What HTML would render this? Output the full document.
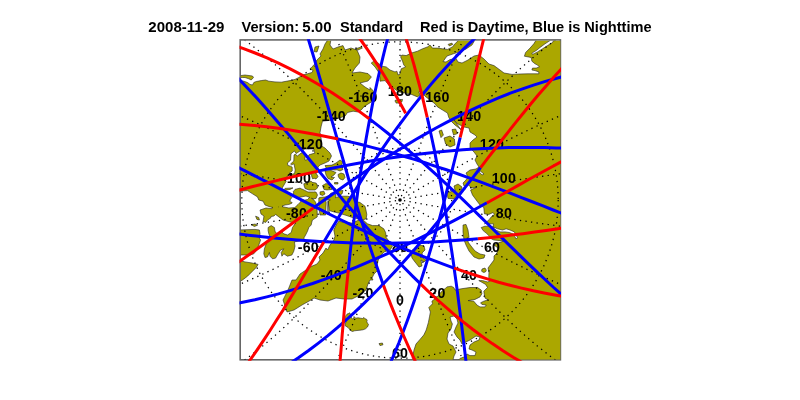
<!DOCTYPE html>
<html><head><meta charset="utf-8"><title>orbit map</title>
<style>
html,body{margin:0;padding:0;background:#fff;}
body{width:800px;height:400px;overflow:hidden;position:relative;font-family:"Liberation Sans",sans-serif;}
svg{position:absolute;left:0;top:0;}
.t{font:bold 14.6px "Liberation Sans",sans-serif;fill:#000;}
.lab text{letter-spacing:0.2px;font:bold 14.2px "Liberation Sans",sans-serif;fill:#000;text-anchor:middle;}
</style></head><body>
<svg width="800" height="400" viewBox="0 0 800 400">
<defs><clipPath id="c"><rect x="240.9" y="40.8" width="319.4" height="318.8"/></clipPath><clipPath id="c2"><rect x="239.5" y="39.2" width="321.5" height="321.5"/></clipPath></defs>
<rect x="0" y="0" width="800" height="400" fill="#fff"/>
<g class="t" style="filter:grayscale(1)">
<text x="148.3" y="31.6" textLength="76.1" lengthAdjust="spacingAndGlyphs">2008-11-29</text>
<text x="241.5" y="31.6">Version:</text>
<text x="302.3" y="31.6" textLength="29.2" lengthAdjust="spacingAndGlyphs">5.00</text>
<text x="340.0" y="31.6">Standard</text>
<text x="420.1" y="31.6" textLength="231.4" lengthAdjust="spacing">Red is Daytime, Blue is Nighttime</text>
</g>
<rect x="240.2" y="39.9" width="320.2" height="319.9" fill="none" stroke="#666" stroke-width="1.6"/>
<g clip-path="url(#c)">
<g stroke="#222" stroke-width="0.6" stroke-linejoin="round">
<path fill-rule="evenodd" fill="#ABA700" d="M251.2,80.0 L253.5,77.5 L252.5,76.0 L245.0,75.0 L237.5,76.0 L237.5,78.1 L242.5,77.5 L245.0,77.5 L248.8,78.8Z M257.5,196.9 L258.8,200.0 L263.1,201.2 L265.0,205.0 L270.0,206.9 L272.8,207.4 L272.0,207.5 L272.0,208.7 L266.0,208.0 L260.0,210.0 L261.0,214.0 L264.0,216.0 L263.1,221.2 L263.0,222.0 L264.0,221.7 L265.6,222.5 L267.5,220.0 L270.6,218.1 L271.1,216.5 L274.0,216.0 L275.6,214.4 L279.0,217.0 L283.0,220.0 L290.0,222.0 L296.0,223.2 L295.0,223.8 L292.5,227.5 L291.2,232.5 L287.5,235.0 L283.8,233.8 L281.2,231.2 L276.9,233.8 L275.0,231.2 L274.4,227.5 L271.2,225.6 L268.1,227.5 L268.1,230.6 L268.8,233.8 L270.6,238.1 L268.8,240.6 L266.2,243.8 L264.4,248.8 L263.8,253.8 L265.0,257.5 L267.5,256.9 L269.4,252.5 L270.0,256.2 L272.5,258.8 L275.6,258.1 L278.1,253.8 L280.6,250.0 L283.8,248.8 L281.2,252.5 L281.9,256.2 L283.8,253.8 L287.5,256.2 L291.9,255.0 L293.8,251.2 L295.0,246.2 L294.4,241.9 L305.0,240.0 L303.8,238.1 L305.6,235.0 L307.5,231.2 L308.8,227.5 L311.2,225.0 L311.6,223.0 L312.4,220.0 L317.2,217.0 L317.2,212.0 L316.8,206.0 L315.5,202.0 L313.0,199.0 L311.4,198.3 L315.0,198.8 L315.2,198.4 L316.0,198.5 L317.5,195.0 L316.0,192.0 L315.1,192.0 L315.0,191.9 L313.5,192.0 L308.0,192.0 L302.0,189.0 L301.8,189.0 L300.0,188.1 L296.5,189.0 L296.0,189.0 L295.9,189.1 L295.0,189.4 L293.1,191.9 L293.7,192.8 L293.0,194.0 L296.0,198.0 L301.0,197.0 L306.0,196.0 L309.7,197.5 L309.8,197.6 L309.5,197.5 L307.5,199.5 L304.5,200.2 L301.5,199.5 L300.5,202.0 L298.0,204.5 L294.8,207.6 L288.8,208.0 L282.4,206.7 L282.9,206.3 L282.0,206.1 L285.0,205.0 L287.9,204.6 L288.8,204.4 L291.4,203.5 L292.3,202.9 L292.0,202.5 L289.5,201.2 L290.3,200.4 L290.0,200.0 L291.9,197.5 L290.0,195.0 L287.5,192.5 L283.8,190.6 L290.0,189.4 L293.0,187.9 L285.0,188.4 L283.8,190.0 L281.9,190.0 L282.5,187.5 L286.2,181.2 L285.9,180.5 L285.0,180.0 L285.7,180.0 L285.0,178.1 L288.8,175.6 L311.2,174.1 L311.3,174.4 L311.2,174.4 L311.5,175.2 L312.0,177.5 L312.2,177.6 L312.5,178.8 L314.2,178.3 L316.0,179.0 L317.1,177.6 L317.5,177.5 L317.4,177.2 L318.0,176.5 L316.0,173.0 L315.5,173.0 L318.1,171.9 L318.1,171.2 L318.0,170.5 L318.0,167.0 L318.1,166.9 L320.0,165.0 L325.0,163.0 L329.0,161.0 L331.5,156.0 L330.0,153.0 L325.0,148.0 L321.9,146.2 L321.2,138.8 L320.6,135.0 L320.0,132.5 L321.2,126.2 L322.5,121.2 L332.5,120.0 L345.0,116.2 L347.5,112.5 L353.1,111.2 L357.5,111.9 L361.2,110.0 L363.8,106.9 L367.5,104.4 L372.5,101.2 L374.4,98.8 L375.0,93.8 L372.5,90.0 L370.0,87.5 L370.0,90.0 L365.0,87.0 L360.0,83.0 L368.0,81.0 L371.4,77.0 L368.0,73.6 L360.0,72.0 L352.0,73.0 L355.0,68.0 L359.4,63.0 L360.0,57.0 L357.0,50.0 L351.0,48.0 L345.0,50.0 L343.0,45.6 L338.0,47.0 L333.0,49.0 L330.0,45.0 L331.0,39.0 L329.4,39.0 L327.0,41.0 L325.0,44.0 L323.0,49.0 L320.0,54.0 L321.0,56.0 L316.9,60.0 L315.0,63.8 L311.9,66.9 L310.0,68.8 L313.1,70.6 L311.9,72.5 L307.5,73.8 L302.5,75.0 L298.8,77.5 L295.0,79.4 L290.0,80.6 L281.2,82.2 L275.0,81.9 L268.8,81.2 L265.6,80.0 L261.2,80.6 L256.2,81.5 L253.8,82.5 L252.5,85.0 L250.0,84.4 L247.5,82.5 L243.8,81.2 L240.0,80.6 L235.0,80.5 L235.0,191.2 L240.0,191.2 L247.5,190.6 L252.5,193.8Z M278.9,206.9 L278.6,206.9 L278.8,206.9Z M304.4,149.0 L313.8,149.0 L314.8,153.1 L309.0,154.8 L306.5,160.2 L304.8,159.8 L305.4,155.2 L303.5,152.2 L301.2,153.0 L297.1,156.2 L295.4,154.0 L294.0,155.0 L293.8,161.0 L290.6,164.0 L291.5,164.8 L294.0,163.8 L295.2,170.0 L294.5,173.5 L291.5,174.4 L289.4,173.1 L292.2,171.0 L292.2,167.2 L290.6,166.2 L287.8,165.4 L287.5,162.9 L290.6,160.2 L291.0,153.8 L294.4,151.0 L296.2,153.5 L300.4,150.8 L303.5,150.2Z M388.8,85.0 L398.8,91.9 L410.0,93.8 L417.5,96.9 L420.0,95.0 L418.8,91.9 L421.2,91.2 L425.0,96.2 L430.0,100.0 L435.0,103.8 L437.5,106.9 L442.5,110.0 L447.5,113.1 L448.8,117.5 L451.2,121.2 L455.0,125.0 L460.0,128.8 L461.2,130.0 L454.0,120.0 L458.0,124.0 L464.0,127.0 L469.0,128.0 L470.0,132.0 L475.0,135.0 L477.0,137.0 L473.0,140.0 L470.0,143.0 L470.0,148.0 L474.0,152.0 L477.0,156.0 L475.0,160.0 L477.0,164.0 L479.0,167.0 L476.0,169.0 L470.0,170.0 L466.0,173.0 L468.0,177.0 L466.0,180.0 L463.0,183.0 L464.0,186.0 L469.0,185.0 L471.0,188.0 L477.0,187.0 L470.6,190.0 L472.5,195.0 L476.2,200.0 L480.0,205.0 L483.8,207.5 L484.4,213.8 L488.8,214.4 L493.1,212.5 L494.4,214.4 L491.2,216.9 L489.4,219.4 L484.4,223.8 L486.2,223.1 L491.2,223.8 L493.5,223.8 L493.1,226.9 L490.0,226.2 L485.0,226.2 L481.2,227.5 L483.1,230.6 L486.2,233.1 L488.8,235.6 L491.2,238.8 L493.8,240.0 L504.0,241.0 L498.0,243.0 L494.0,245.0 L498.0,248.0 L497.0,253.0 L494.0,256.0 L494.0,260.0 L491.0,264.0 L488.0,268.0 L488.8,271.8 L489.0,270.0 L488.9,272.6 L489.0,273.0 L488.9,273.5 L488.8,277.5 L490.0,281.2 L487.5,281.9 L482.5,280.6 L478.8,280.6 L481.2,281.9 L485.6,284.4 L487.5,287.5 L483.8,291.2 L484.4,295.0 L485.0,298.1 L488.1,299.8 L483.8,301.2 L480.6,302.8 L481.9,304.4 L486.2,305.0 L485.0,306.9 L480.0,306.9 L476.9,305.0 L473.8,301.2 L468.1,300.6 L475.0,299.4 L480.0,296.9 L481.9,293.8 L481.2,290.0 L477.5,287.5 L470.0,287.5 L461.2,288.8 L455.0,290.0 L453.8,287.5 L451.2,286.2 L446.9,286.9 L445.0,288.8 L441.2,291.9 L438.8,295.0 L435.0,298.8 L431.9,301.2 L432.5,303.8 L428.8,307.5 L430.4,312.0 L429.6,316.2 L428.4,322.4 L426.2,330.0 L423.8,335.0 L420.0,339.4 L416.0,344.0 L414.0,350.0 L413.0,355.0 L415.0,359.0 L416.0,360.0 L416.0,370.0 L570.0,370.0 L570.0,30.0 L460.0,38.8 L457.5,41.2 L455.0,43.8 L452.5,46.9 L447.5,49.4 L442.5,48.8 L437.5,48.1 L432.5,48.1 L430.0,45.0 L427.5,46.9 L422.5,48.8 L417.5,51.2 L411.2,53.1 L406.2,55.6 L401.9,55.0 L400.6,56.9 L402.5,61.2 L403.8,65.0 L405.6,66.9 L401.2,68.8 L400.0,73.8 L398.1,75.0 L396.9,71.2 L395.0,71.9 L390.0,70.0 L386.2,66.9 L381.9,66.2 L377.5,62.5 L373.8,61.2 L371.2,63.1 L375.0,66.9 L378.8,72.5 L380.0,77.5 L380.0,81.2 L385.0,80.6Z M497.5,228.8 L502.5,230.0 L506.2,228.8 L510.0,230.0 L514.4,231.9 L515.6,234.4 L517.5,237.5 L516.2,239.0 L515.0,236.9 L513.1,234.0 L509.4,232.5 L505.0,231.9 L500.0,231.9 L496.2,230.2 L493.5,228.1 L493.1,226.9Z M532.5,54.4 L531.9,53.1 L536.2,50.6 L540.0,47.5 L545.0,43.8 L550.0,40.6 L551.2,38.0 L555.0,38.0 L552.5,42.5 L547.5,45.6 L542.5,48.8 L537.5,51.9Z M472.0,45.0 L476.0,38.0 L536.6,38.0 L536.2,40.0 L533.8,43.8 L530.0,48.1 L525.6,52.5 L524.4,56.2 L531.2,57.5 L531.9,61.2 L535.0,63.8 L537.5,65.0 L539.4,66.9 L536.2,68.1 L532.5,68.1 L531.9,70.0 L535.0,70.6 L538.8,71.9 L538.8,73.8 L528.0,73.8 L520.0,74.0 L512.0,74.4 L504.0,73.0 L500.0,70.0 L494.0,65.6 L489.0,64.0 L486.0,61.0 L484.0,59.0 L479.0,55.0 L474.0,56.0 L468.0,60.0 L462.0,63.0 L458.0,62.0 L456.0,58.4 L450.0,59.6 L446.0,62.0 L443.0,61.6 L447.0,56.0 L454.0,53.6 L460.0,51.6 L466.0,49.0Z M479.0,170.0 L484.0,174.0 L482.0,175.0 L479.6,172.4Z M451.0,321.0 L450.0,317.0 L454.0,316.0 L457.0,319.0 L458.0,323.0 L456.0,327.0 L454.0,332.0 L457.0,337.0 L460.0,340.0 L462.0,344.0 L470.0,340.0 L476.0,336.0 L480.0,337.0 L479.0,340.0 L474.0,342.0 L470.0,345.0 L469.0,349.0 L472.0,350.0 L476.0,352.0 L475.0,355.6 L470.0,355.6 L467.0,354.0 L464.0,357.0 L460.0,358.4 L457.0,362.0 L452.4,362.0 L454.0,356.0 L456.0,352.0 L453.0,346.0 L449.0,344.0 L447.0,339.0 L448.0,333.0 L451.0,329.0 L452.4,324.0Z M258.8,245.0 L260.6,240.0 L259.4,238.1 L260.0,233.8 L259.4,230.0 L255.0,229.4 L237.5,230.0 L237.5,255.0 L250.0,255.0 L253.8,253.8 L256.9,250.0Z M311.0,300.0 L314.0,298.0 L320.0,300.0 L328.0,301.0 L336.0,298.0 L344.0,299.0 L352.0,299.0 L358.0,296.0 L360.0,294.0 L366.0,290.0 L368.0,284.0 L370.0,280.0 L373.0,280.0 L372.0,278.0 L374.0,274.0 L378.0,270.0 L377.0,266.0 L378.0,261.0 L380.0,256.0 L384.0,252.0 L390.0,250.0 L392.5,246.2 L390.0,242.5 L386.2,237.5 L385.6,232.5 L383.8,228.8 L378.8,225.6 L372.5,225.6 L367.5,223.8 L363.1,220.0 L357.5,220.6 L352.5,223.1 L345.0,222.5 L338.8,221.2 L336.2,225.0 L333.8,230.0 L335.0,236.2 L333.8,240.0 L330.0,245.0 L327.5,250.0 L326.0,248.0 L323.0,253.0 L319.0,257.0 L320.0,260.0 L317.0,264.0 L310.0,267.0 L306.0,270.0 L300.0,274.0 L296.0,280.0 L292.0,280.0 L288.0,290.0 L283.0,300.0 L287.0,312.0 L294.0,310.0 L302.0,305.0Z M256.2,267.5 L258.1,264.4 L252.5,263.1 L245.0,261.9 L240.0,260.6 L235.0,260.0 L235.0,282.0 L240.0,281.2 L242.5,280.0 L247.5,276.2 L252.5,271.2Z M319.0,46.0 L315.0,47.0 L314.0,51.6 L317.0,52.0Z M309.0,190.0 L313.8,190.0 L315.0,190.0 L317.5,188.0 L317.4,187.5 L317.5,187.5 L317.4,187.1 L317.0,184.0 L316.5,183.9 L316.2,183.1 L312.0,182.3 L311.0,181.0 L308.1,182.4 L303.8,183.8 L304.0,185.0 L304.4,186.9 L304.6,187.0 L305.0,188.5Z M328.1,201.2 L328.8,206.2 L329.4,210.6 L333.8,211.9 L338.8,213.1 L345.0,215.0 L352.5,217.5 L357.5,218.8 L362.5,220.0 L366.2,218.8 L366.8,214.5 L366.2,211.2 L365.0,206.2 L360.0,202.5 L355.0,201.2 L352.5,197.5 L347.5,196.2 L342.5,196.2 L337.5,196.9 L335.3,197.7 L335.5,197.5 L336.0,195.0 L334.0,193.0 L331.0,193.0 L329.0,195.5 L325.0,197.0 L319.5,197.5 L319.6,198.0 L318.8,198.1 L318.8,206.2 L320.0,215.0 L325.6,215.0 L326.2,202.5 L325.6,200.0 L330.3,200.0Z M258.8,217.5 L255.6,216.2 L256.9,219.4 L259.4,220.0Z M255.0,224.0 L251.2,224.8 L254.4,226.5 L257.5,225.2Z M355.0,49.0 L358.0,50.0 L362.4,48.0 L361.0,47.0Z M335.0,170.0 L336.9,169.8 L340.0,171.0 L343.0,169.5 L342.1,167.9 L342.5,165.6 L341.2,165.5 L343.0,162.0 L340.0,160.0 L336.0,163.0 L331.9,165.1 L325.0,165.6 L326.9,169.4Z M331.0,170.5 L325.0,171.0 L326.0,175.0 L328.0,178.5 L332.0,180.0 L334.5,177.5 L331.0,177.0 L334.0,175.0 L336.0,172.5Z M338.0,174.5 L338.5,177.0 L340.0,179.0 L343.0,180.0 L345.0,177.5 L344.0,174.0 L341.0,173.0Z M334.5,182.5 L334.5,184.0 L338.0,184.0 L338.0,182.5Z M323.2,185.1 L322.5,185.5 L324.0,189.5 L326.1,189.8 L326.2,190.0 L327.2,189.9 L328.0,190.0 L328.5,189.8 L331.9,189.4 L332.5,185.6 L327.5,183.8 L327.0,183.9 L326.0,183.5 L323.6,184.9 L323.1,185.0Z M343.0,190.5 L338.0,191.0 L339.0,195.0 L342.0,194.0Z M322.5,195.5 L325.0,194.0 L324.9,193.8 L325.0,193.8 L324.5,192.8 L324.0,191.5 L323.9,191.5 L323.8,191.2 L320.0,191.9 L320.1,192.0 L320.0,192.0 L320.0,194.5 L321.9,195.2Z M327.8,207.5 L328.1,215.0 L328.1,201.2Z M351.0,330.8 L352.5,331.5 L354.5,330.8 L357.0,330.5 L360.0,330.2 L363.0,329.8 L365.5,328.8 L367.5,327.0 L368.5,324.5 L367.5,323.2 L366.8,321.8 L367.2,320.5 L366.5,319.2 L365.0,318.8 L364.0,317.5 L362.5,318.5 L360.5,318.2 L358.0,317.8 L355.5,318.2 L355.0,317.5 L354.0,316.5 L353.5,319.0 L352.2,318.8 L351.5,318.0 L351.0,315.5 L350.2,313.5 L349.2,312.8 L348.2,314.0 L347.2,313.8 L346.5,315.0 L345.0,316.5 L345.5,319.0 L346.5,321.0 L345.5,323.0 L345.0,325.5 L346.0,326.2 L348.0,327.5 L349.5,329.2Z M451.9,43.1 L448.1,44.4 L449.4,45.9 L452.8,44.4Z M401.0,102.4 L400.9,102.2 L401.9,101.9 L402.5,99.4 L400.0,99.7 L400.0,99.6 L397.5,100.0 L395.0,100.4 L395.3,101.1 L395.0,101.2 L395.8,102.4 L396.0,103.0 L396.2,103.0 L396.2,103.1 L398.8,103.1 L400.4,102.5Z M455.6,129.0 L452.0,129.6 L453.6,135.0 L457.4,133.6Z M441.6,130.0 L439.0,131.0 L441.0,137.6 L443.4,135.0Z M445.6,144.0 L450.0,147.0 L455.0,145.0 L454.4,139.0 L450.0,136.0 L444.0,138.0Z M458.0,184.0 L454.0,186.0 L456.0,194.0 L461.0,193.0 L462.0,187.0Z M447.0,193.0 L448.0,198.4 L454.0,199.0 L457.0,195.0 L456.0,194.0 L453.0,191.0Z M484.0,258.0 L485.0,255.0 L480.0,254.0 L475.0,251.0 L471.0,246.0 L468.0,242.0 L469.0,237.0 L468.0,230.0 L466.0,224.4 L463.0,225.0 L463.0,232.0 L464.0,240.0 L466.0,245.0 L469.0,251.0 L474.0,257.0 L479.0,259.0Z M423.0,258.0 L422.0,253.0 L425.0,250.0 L424.0,246.0 L420.0,245.0 L415.0,248.0 L411.0,253.0 L412.0,258.0 L415.0,262.0 L419.0,267.0 L422.0,266.0 L421.0,260.0 L424.0,262.0 L426.0,260.0Z M482.5,271.9 L484.0,272.5 L485.9,271.5 L485.8,270.9 L486.4,270.4 L485.0,268.0 L482.0,269.0 L481.6,271.2 L482.4,271.6Z M379.0,343.6 L380.0,345.6 L383.0,344.8 L382.4,343.0Z"/>
</g>
<g fill="none" stroke="#000" stroke-width="1.25" stroke-dasharray="1.3 4.3">
<circle cx="400" cy="200" r="51.7"/>
<circle cx="400" cy="200" r="158.2"/>
<circle cx="400" cy="200" r="275.3"/>
<polyline stroke-dashoffset="1.6" points="400.0,200.0 400.0,210.0 400.0,220.0 400.0,230.0 400.0,240.0 400.0,250.0 400.0,260.0 400.0,270.0 400.0,280.0 400.0,290.0 400.0,300.0 400.0,310.0 400.0,320.0 400.0,330.0 400.0,340.0 400.0,350.0 400.0,360.0 400.0,370.0 400.0,380.0 400.0,390.0 400.0,400.0 400.0,410.0 400.0,420.0 400.0,430.0 400.0,440.0 400.0,450.0 400.0,460.0 400.0,470.0 400.0,480.0 400.0,490.0 400.0,500.0 400.0,510.0 400.0,520.0 400.0,530.0"/>
<polyline stroke-dashoffset="2.0" points="402.1,205.6 405.5,215.0 408.9,224.4 412.3,233.8 415.8,243.2 419.3,252.6 422.8,262.0 426.3,271.3 429.9,280.7 433.5,290.0 437.1,299.3 440.8,308.6 444.6,317.8 448.5,327.1 452.4,336.3 456.4,345.4 460.5,354.6 464.7,363.7 469.1,372.7 473.5,381.7 478.0,390.6 482.7,399.5 487.5,408.4 492.5,417.1 497.6,425.8 502.9,434.4 508.3,442.9 513.9,451.4 519.7,459.7 525.7,468.0 531.9,476.1 538.3,484.1 544.8,492.1"/>
<polyline stroke-dashoffset="1.6" points="400.0,200.0 406.4,207.7 412.9,215.3 419.3,223.0 425.8,230.6 432.2,238.2 438.7,245.8 445.3,253.4 451.9,260.9 458.5,268.4 465.2,275.8 471.9,283.2 478.8,290.5 485.7,297.8 492.7,304.9 499.8,312.0 507.0,319.0 514.3,325.8 521.7,332.6 529.3,339.2 537.0,345.7 544.9,352.0 552.9,358.2 561.1,364.2 569.4,370.0 577.9,375.6 586.6,381.1 595.5,386.2 604.6,391.2 613.8,395.9 623.3,400.3 633.0,404.5 642.9,408.4 653.0,411.9"/>
<polyline stroke-dashoffset="2.0" points="405.2,203.0 413.9,208.0 422.5,213.0 431.2,218.0 439.9,222.9 448.6,227.9 457.3,232.8 466.0,237.6 474.8,242.4 483.6,247.2 492.4,251.9 501.3,256.5 510.2,261.1 519.2,265.5 528.2,269.9 537.3,274.1 546.4,278.3 555.6,282.3 564.9,286.1 574.2,289.8 583.6,293.4 593.1,296.7 602.7,299.9 612.4,302.9 622.1,305.7 632.0,308.3 641.9,310.6 651.9,312.7 662.1,314.5 672.3,316.1 682.6,317.3 693.0,318.3 703.5,319.0"/>
<polyline stroke-dashoffset="1.6" points="400.0,200.0 409.8,201.7 419.7,203.5 429.5,205.2 439.4,206.9 449.2,208.6 459.1,210.3 469.0,212.0 478.8,213.7 488.7,215.3 498.6,217.0 508.4,218.5 518.3,220.1 528.2,221.6 538.1,223.1 548.0,224.5 557.9,225.9 567.8,227.2 577.7,228.5 587.7,229.7 597.6,230.9 607.6,231.9 617.5,232.9 627.5,233.8 637.5,234.6 647.5,235.4 657.5,236.0 667.5,236.6 677.5,237.0 687.6,237.3 697.6,237.5 707.7,237.6 717.8,237.6 727.9,237.4"/>
<polyline stroke-dashoffset="2.0" points="405.9,199.0 415.8,197.2 425.6,195.5 435.5,193.8 445.3,192.0 455.2,190.3 465.0,188.6 474.9,187.0 484.7,185.3 494.6,183.7 504.5,182.1 514.4,180.5 524.2,179.0 534.1,177.5 544.0,176.0 553.9,174.6 563.8,173.3 573.8,172.0 583.7,170.8 593.6,169.6 603.6,168.5 613.5,167.5 623.5,166.5 633.5,165.7 643.5,164.9 653.5,164.2 663.5,163.6 673.5,163.2 683.6,162.8 693.6,162.5 703.7,162.4 713.8,162.4 723.8,162.5"/>
<polyline stroke-dashoffset="1.6" points="400.0,200.0 408.7,195.0 417.3,190.0 426.0,185.0 434.7,180.0 443.4,175.1 452.1,170.2 460.8,165.3 469.5,160.4 478.3,155.6 487.1,150.9 496.0,146.2 504.9,141.6 513.8,137.1 522.8,132.7 531.8,128.4 540.9,124.2 550.1,120.1 559.3,116.2 568.6,112.4 578.0,108.7 587.4,105.3 596.9,102.0 606.6,98.8 616.3,95.9 626.1,93.2 635.9,90.8 645.9,88.5 656.0,86.5 666.1,84.8 676.4,83.4 686.8,82.2 697.2,81.4 707.7,80.9"/>
<polyline stroke-dashoffset="2.0" points="403.9,195.4 410.3,187.7 416.7,180.1 423.2,172.4 429.6,164.8 436.1,157.2 442.7,149.6 449.2,142.1 455.8,134.6 462.5,127.1 469.2,119.7 476.0,112.4 482.9,105.1 489.9,97.9 496.9,90.8 504.1,83.8 511.4,76.9 518.7,70.1 526.3,63.4 533.9,56.9 541.7,50.5 549.7,44.2 557.8,38.2 566.0,32.3 574.5,26.6 583.1,21.1 591.9,15.8 600.9,10.7 610.1,5.9 619.5,1.4 629.1,-2.9 638.9,-6.9 648.9,-10.5"/>
<polyline stroke-dashoffset="1.6" points="400.0,200.0 403.4,190.6 406.8,181.2 410.3,171.8 413.7,162.4 417.2,153.0 420.7,143.7 424.2,134.3 427.7,125.0 431.3,115.6 434.9,106.3 438.6,97.0 442.4,87.7 446.2,78.5 450.0,69.3 454.0,60.1 458.1,50.9 462.2,41.8 466.5,32.7 470.8,23.7 475.3,14.7 479.9,5.8 484.6,-3.1 489.5,-11.9 494.5,-20.6 499.7,-29.3 505.0,-37.8 510.5,-46.3 516.2,-54.7 522.1,-63.0 528.1,-71.3 534.4,-79.3 540.9,-87.3 547.5,-95.2"/>
<polyline stroke-dashoffset="2.0" points="400.0,194.0 400.0,184.0 400.0,174.0 400.0,164.0 400.0,154.0 400.0,144.0 400.0,134.0 400.0,124.0 400.0,114.0 400.0,104.0 400.0,94.0 400.0,84.0 400.0,74.0 400.0,64.0 400.0,54.0 400.0,44.0 400.0,34.0 400.0,24.0 400.0,14.0 400.0,4.0 400.0,-6.0 400.0,-16.0 400.0,-26.0 400.0,-36.0 400.0,-46.0 400.0,-56.0 400.0,-66.0 400.0,-76.0 400.0,-86.0 400.0,-96.0 400.0,-106.0 400.0,-116.0 400.0,-126.0"/>
<polyline stroke-dashoffset="1.6" points="400.0,200.0 396.6,190.6 393.2,181.2 389.7,171.8 386.3,162.4 382.8,153.0 379.3,143.7 375.8,134.3 372.3,125.0 368.7,115.6 365.1,106.3 361.4,97.0 357.6,87.7 353.8,78.5 350.0,69.3 346.0,60.1 341.9,50.9 337.8,41.8 333.5,32.7 329.2,23.7 324.7,14.7 320.1,5.8 315.4,-3.1 310.5,-11.9 305.5,-20.6 300.3,-29.3 295.0,-37.8 289.5,-46.3 283.8,-54.7 277.9,-63.0 271.9,-71.3 265.6,-79.3 259.1,-87.3 252.5,-95.2"/>
<polyline stroke-dashoffset="2.0" points="396.1,195.4 389.7,187.7 383.3,180.1 376.8,172.4 370.4,164.8 363.9,157.2 357.3,149.6 350.8,142.1 344.2,134.6 337.5,127.1 330.8,119.7 324.0,112.4 317.1,105.1 310.1,97.9 303.1,90.8 295.9,83.8 288.6,76.9 281.3,70.1 273.7,63.4 266.1,56.9 258.3,50.5 250.3,44.2 242.2,38.2 234.0,32.3 225.5,26.6 216.9,21.1 208.1,15.8 199.1,10.7 189.9,5.9 180.5,1.4 170.9,-2.9 161.1,-6.9 151.1,-10.5"/>
<polyline stroke-dashoffset="1.6" points="400.0,200.0 391.3,195.0 382.7,190.0 374.0,185.0 365.3,180.0 356.6,175.1 347.9,170.2 339.2,165.3 330.5,160.4 321.7,155.6 312.9,150.9 304.0,146.2 295.1,141.6 286.2,137.1 277.2,132.7 268.2,128.4 259.1,124.2 249.9,120.1 240.7,116.2 231.4,112.4 222.0,108.7 212.6,105.3 203.1,102.0 193.4,98.8 183.7,95.9 173.9,93.2 164.1,90.8 154.1,88.5 144.0,86.5 133.9,84.8 123.6,83.4 113.2,82.2 102.8,81.4 92.3,80.9"/>
<polyline stroke-dashoffset="2.0" points="394.1,199.0 384.2,197.2 374.4,195.5 364.5,193.8 354.7,192.0 344.8,190.3 335.0,188.6 325.1,187.0 315.3,185.3 305.4,183.7 295.5,182.1 285.6,180.5 275.8,179.0 265.9,177.5 256.0,176.0 246.1,174.6 236.2,173.3 226.2,172.0 216.3,170.8 206.4,169.6 196.4,168.5 186.5,167.5 176.5,166.5 166.5,165.7 156.5,164.9 146.5,164.2 136.5,163.6 126.5,163.2 116.4,162.8 106.4,162.5 96.3,162.4 86.2,162.4 76.2,162.5"/>
<polyline stroke-dashoffset="1.6" points="400.0,200.0 390.2,201.7 380.3,203.5 370.5,205.2 360.6,206.9 350.8,208.6 340.9,210.3 331.0,212.0 321.2,213.7 311.3,215.3 301.4,217.0 291.6,218.5 281.7,220.1 271.8,221.6 261.9,223.1 252.0,224.5 242.1,225.9 232.2,227.2 222.3,228.5 212.3,229.7 202.4,230.9 192.4,231.9 182.5,232.9 172.5,233.8 162.5,234.6 152.5,235.4 142.5,236.0 132.5,236.6 122.5,237.0 112.4,237.3 102.4,237.5 92.3,237.6 82.2,237.6 72.1,237.4"/>
<polyline stroke-dashoffset="2.0" points="394.8,203.0 386.1,208.0 377.5,213.0 368.8,218.0 360.1,222.9 351.4,227.9 342.7,232.8 334.0,237.6 325.2,242.4 316.4,247.2 307.6,251.9 298.7,256.5 289.8,261.1 280.8,265.5 271.8,269.9 262.7,274.1 253.6,278.3 244.4,282.3 235.1,286.1 225.8,289.8 216.4,293.4 206.9,296.7 197.3,299.9 187.6,302.9 177.9,305.7 168.0,308.3 158.1,310.6 148.1,312.7 137.9,314.5 127.7,316.1 117.4,317.3 107.0,318.3 96.5,319.0"/>
<polyline stroke-dashoffset="1.6" points="400.0,200.0 393.6,207.7 387.1,215.3 380.7,223.0 374.2,230.6 367.8,238.2 361.3,245.8 354.7,253.4 348.1,260.9 341.5,268.4 334.8,275.8 328.1,283.2 321.2,290.5 314.3,297.8 307.3,304.9 300.2,312.0 293.0,319.0 285.7,325.8 278.3,332.6 270.7,339.2 263.0,345.7 255.1,352.0 247.1,358.2 238.9,364.2 230.6,370.0 222.1,375.6 213.4,381.1 204.5,386.2 195.4,391.2 186.2,395.9 176.7,400.3 167.0,404.5 157.1,408.4 147.0,411.9"/>
<polyline stroke-dashoffset="2.0" points="397.9,205.6 394.5,215.0 391.1,224.4 387.7,233.8 384.2,243.2 380.7,252.6 377.2,262.0 373.7,271.3 370.1,280.7 366.5,290.0 362.9,299.3 359.2,308.6 355.4,317.8 351.5,327.1 347.6,336.3 343.6,345.4 339.5,354.6 335.3,363.7 330.9,372.7 326.5,381.7 322.0,390.6 317.3,399.5 312.5,408.4 307.5,417.1 302.4,425.8 297.1,434.4 291.7,442.9 286.1,451.4 280.3,459.7 274.3,468.0 268.1,476.1 261.7,484.1 255.2,492.1"/>
</g>
</g>
<circle cx="400" cy="200" r="1.8" fill="#000"/>
<g class="lab" style="filter:grayscale(1)">
<text x="363.0" y="102.1">-160</text>
<text x="331.3" y="120.9">-140</text>
<text x="308.4" y="148.9">-120</text>
<text x="296.5" y="182.5">-100</text>
<text x="296.5" y="218.0">-80</text>
<text x="308.4" y="251.6">-60</text>
<text x="331.3" y="279.6">-40</text>
<text x="363.0" y="298.4">-20</text>
<text x="400.0" y="305.0">0</text>
<text x="437.4" y="298.4">20</text>
<text x="469.1" y="279.6">40</text>
<text x="492.0" y="251.6">60</text>
<text x="503.9" y="218.0">80</text>
<text x="503.9" y="182.5">100</text>
<text x="492.0" y="148.9">120</text>
<text x="469.1" y="120.9">140</text>
<text x="437.4" y="102.1">160</text>
<text x="400.0" y="95.5">180</text>
<text x="400.0" y="358.2">60</text>
<text x="400.0" y="251.7">80</text>
</g>
<g clip-path="url(#c2)">
<g fill="none" stroke-width="3" stroke-linecap="butt" stroke-linejoin="round">
<path d="M369.2,118.7 L378.2,125.6 L387.2,132.7 L396.0,139.8 L404.7,147.1 L413.2,154.4 L421.7,161.7 L430.1,169.2 L438.4,176.7 L446.6,184.3 L454.8,192.0 L462.9,199.7 L471.0,207.5 L479.0,215.4 L487.1,223.3 L495.1,231.2 L503.2,239.1 L511.3,247.1 L519.5,255.1 L527.7,263.1 L536.1,271.1 L544.5,279.0 L553.1,287.0 L561.9,294.8 L569.9,301.9" stroke="#0000ff"/>
<path d="M338.0,139.0 L349.1,141.6 L360.2,144.2 L371.1,147.1 L382.0,150.0 L392.9,153.0 L403.6,156.2 L414.4,159.4 L425.1,162.8 L435.7,166.3 L446.4,169.8 L457.0,173.5 L467.6,177.3 L478.3,181.1 L488.9,185.1 L499.5,189.1 L510.2,193.1 L520.9,197.3 L531.6,201.5 L542.4,205.7 L553.2,210.0 L564.1,214.2 L569.9,216.5" stroke="#0000ff"/>
<path d="M318.0,171.1 L329.1,168.8 L340.2,166.6 L351.3,164.5 L362.4,162.5 L373.4,160.6 L384.5,158.8 L395.6,157.2 L406.8,155.7 L417.9,154.2 L429.1,152.9 L440.3,151.8 L451.6,150.7 L463.0,149.8 L474.4,149.1 L485.8,148.4 L497.3,148.0 L509.0,147.6 L520.7,147.5 L532.4,147.5 L544.3,147.6 L556.3,147.9 L568.4,148.4 L569.9,148.4" stroke="#0000ff"/>
<path d="M313.4,207.9 L322.5,201.3 L331.7,194.7 L340.9,188.2 L350.1,181.8 L359.3,175.5 L368.6,169.2 L378.0,163.0 L387.4,156.9 L396.9,151.0 L406.5,145.1 L416.2,139.3 L426.1,133.6 L436.0,128.0 L446.1,122.6 L456.3,117.3 L466.8,112.1 L477.4,107.1 L488.1,102.3 L499.1,97.7 L510.3,93.2 L521.8,89.1 L533.5,85.1 L545.4,81.4 L557.6,78.0 L569.8,75.0" stroke="#0000ff"/>
<path d="M323.8,242.0 L329.6,232.3 L335.4,222.7 L341.1,213.1 L347.0,203.6 L352.9,194.1 L358.8,184.6 L364.8,175.2 L371.0,165.8 L377.2,156.5 L383.5,147.2 L389.9,137.9 L396.5,128.7 L403.2,119.6 L410.0,110.4 L417.1,101.4 L424.4,92.3 L431.8,83.4 L439.5,74.5 L447.5,65.7 L455.7,56.9 L464.3,48.3 L473.2,39.8 L482.4,31.4 L483.8,30.2" stroke="#0000ff"/>
<path d="M348.3,269.9 L349.5,258.7 L350.7,247.6 L352.0,236.5 L353.3,225.4 L354.7,214.3 L356.2,203.3 L357.7,192.2 L359.3,181.2 L360.9,170.2 L362.7,159.2 L364.5,148.1 L366.4,137.1 L368.4,126.0 L370.5,114.9 L372.6,103.7 L374.9,92.5 L377.3,81.3 L379.9,70.0 L382.6,58.6 L385.4,47.2 L388.4,35.7 L389.9,30.2" stroke="#0000ff"/>
<path d="M383.5,285.4 L379.7,274.7 L375.9,264.1 L372.2,253.5 L368.7,242.9 L365.2,232.3 L361.8,221.7 L358.4,211.1 L355.1,200.5 L351.9,189.8 L348.7,179.2 L345.6,168.5 L342.5,157.7 L339.4,147.0 L336.4,136.2 L333.3,125.4 L330.2,114.5 L327.1,103.6 L324.0,92.6 L320.8,81.5 L317.6,70.4 L314.4,59.3 L311.0,48.0 L307.6,36.7 L305.6,30.1" stroke="#0000ff"/>
<path d="M421.0,284.4 L412.8,276.4 L404.8,268.3 L397.0,260.2 L389.2,252.0 L381.6,243.8 L374.1,235.5 L366.6,227.2 L359.3,218.8 L352.0,210.3 L344.7,201.9 L337.5,193.3 L330.3,184.7 L323.1,176.1 L316.0,167.5 L308.8,158.8 L301.6,150.1 L294.3,141.4 L287.0,132.6 L279.5,123.9 L272.0,115.2 L264.4,106.5 L256.6,97.8 L248.6,89.2 L240.4,80.6 L232.1,72.0 L230.1,70.1" stroke="#0000ff"/>
<path d="M454.1,268.1 L443.3,264.2 L432.7,260.2 L422.2,256.1 L411.7,251.8 L401.4,247.5 L391.0,243.1 L380.8,238.5 L370.6,233.9 L360.4,229.2 L350.3,224.3 L340.2,219.5 L330.1,214.5 L320.1,209.4 L310.0,204.3 L299.9,199.2 L289.8,193.9 L279.6,188.7 L269.5,183.4 L259.2,178.1 L248.9,172.8 L238.5,167.6 L230.1,163.4" stroke="#0000ff"/>
<path d="M477.9,238.7 L466.5,239.7 L455.2,240.5 L444.0,241.3 L432.7,241.9 L421.5,242.4 L410.3,242.8 L399.0,243.0 L387.8,243.2 L376.6,243.2 L365.3,243.1 L354.0,242.9 L342.7,242.6 L331.4,242.1 L320.0,241.5 L308.6,240.8 L297.1,240.0 L285.6,239.0 L274.0,238.0 L262.3,236.8 L250.6,235.4 L238.8,234.0 L230.2,232.9" stroke="#0000ff"/>
<path d="M486.9,202.8 L477.0,208.3 L467.1,213.6 L457.3,218.9 L447.3,224.2 L437.4,229.3 L427.4,234.4 L417.4,239.4 L407.3,244.3 L397.2,249.1 L387.0,253.8 L376.7,258.4 L366.3,262.9 L355.8,267.3 L345.2,271.5 L334.4,275.7 L323.6,279.6 L312.6,283.5 L301.4,287.1 L290.0,290.6 L278.5,293.9 L266.8,296.9 L254.9,299.8 L242.7,302.3 L230.4,304.7 L230.1,304.7" stroke="#0000ff"/>
<path d="M480.6,167.5 L473.8,176.3 L466.9,185.2 L460.0,194.0 L453.1,202.8 L446.1,211.5 L439.1,220.2 L432.0,228.8 L424.8,237.4 L417.6,245.9 L410.2,254.4 L402.8,262.8 L395.2,271.2 L387.4,279.5 L379.6,287.8 L371.5,296.0 L363.2,304.1 L354.8,312.1 L346.1,320.0 L337.1,327.9 L327.9,335.6 L318.4,343.1 L308.6,350.5 L298.4,357.8 L287.9,364.8 L279.7,369.9" stroke="#0000ff"/>
<path d="M460.2,137.3 L457.6,148.2 L454.9,159.0 L452.2,169.9 L449.5,180.7 L446.7,191.5 L443.9,202.3 L441.0,213.0 L438.1,223.7 L435.0,234.5 L431.9,245.2 L428.7,255.9 L425.4,266.7 L422.0,277.4 L418.5,288.2 L414.9,299.0 L411.2,309.8 L407.3,320.7 L403.2,331.6 L399.0,342.5 L394.5,353.4 L389.8,364.4 L387.4,369.9" stroke="#0000ff"/>
<path d="M427.2,117.4 L429.7,128.5 L432.1,139.5 L434.4,150.4 L436.5,161.4 L438.7,172.4 L440.7,183.3 L442.7,194.3 L444.5,205.3 L446.4,216.3 L448.1,227.3 L449.8,238.4 L451.5,249.4 L453.1,260.5 L454.6,271.7 L456.2,282.9 L457.7,294.1 L459.1,305.4 L460.6,316.8 L462.0,328.3 L463.4,339.8 L464.8,351.5 L466.2,363.2 L467.0,370.0" stroke="#0000ff"/>
<path d="M230.3,44.1 L242.9,48.4 L255.1,53.0 L267.0,57.9 L278.5,63.1 L289.7,68.6 L300.6,74.3 L311.2,80.2 L321.6,86.3 L331.7,92.6 L341.5,99.1 L351.2,105.7 L360.6,112.4 L369.2,118.7" stroke="#ff0000"/>
<path d="M230.3,123.5 L242.5,124.4 L254.6,125.5 L266.6,126.8 L278.4,128.3 L290.1,130.0 L301.7,131.9 L313.2,134.0 L324.5,136.2 L335.8,138.5 L338.0,139.0" stroke="#ff0000"/>
<path d="M230.0,192.5 L241.5,189.5 L252.9,186.5 L264.2,183.7 L275.5,180.9 L286.7,178.2 L297.9,175.6 L309.1,173.1 L318.0,171.1" stroke="#ff0000"/>
<path d="M230.1,267.9 L239.8,261.2 L249.3,254.5 L258.8,247.8 L268.1,241.0 L277.4,234.3 L286.6,227.5 L295.8,220.8 L305.0,214.1 L313.4,207.9" stroke="#ff0000"/>
<path d="M243.0,369.9 L250.1,360.0 L257.0,350.1 L263.7,340.2 L270.2,330.2 L276.5,320.3 L282.8,310.5 L288.8,300.6 L294.8,290.8 L300.7,280.9 L306.6,271.1 L312.3,261.4 L318.1,251.7 L323.8,242.0" stroke="#ff0000"/>
<path d="M339.4,369.9 L340.3,358.1 L341.3,346.4 L342.2,334.7 L343.2,323.2 L344.2,311.7 L345.3,300.3 L346.4,289.0 L347.5,277.8 L348.3,269.9" stroke="#ff0000"/>
<path d="M419.4,369.9 L414.2,359.0 L409.2,348.3 L404.4,337.5 L399.8,326.7 L395.4,316.0 L391.1,305.4 L387.0,294.7 L383.5,285.4" stroke="#ff0000"/>
<path d="M535.7,369.9 L524.2,363.7 L513.2,357.2 L502.6,350.5 L492.3,343.6 L482.3,336.5 L472.6,329.3 L463.2,321.9 L454.1,314.3 L445.2,306.7 L436.5,299.0 L428.0,291.1 L421.0,284.4" stroke="#ff0000"/>
<path d="M569.9,297.4 L557.5,295.4 L545.4,293.2 L533.4,290.8 L521.6,288.1 L510.0,285.2 L498.6,282.2 L487.3,278.9 L476.2,275.5 L465.2,271.9 L454.4,268.2 L454.1,268.1" stroke="#ff0000"/>
<path d="M569.7,226.8 L557.9,228.7 L546.2,230.5 L534.6,232.1 L523.0,233.7 L511.5,235.1 L500.1,236.5 L488.7,237.7 L477.9,238.7" stroke="#ff0000"/>
<path d="M569.9,157.1 L559.6,162.6 L549.3,168.2 L539.2,173.8 L529.1,179.3 L519.1,184.9 L509.2,190.5 L499.3,196.0 L489.4,201.5 L486.9,202.8" stroke="#ff0000"/>
<path d="M569.8,59.9 L561.5,68.7 L553.5,77.5 L545.7,86.4 L538.0,95.3 L530.5,104.2 L523.2,113.2 L516.0,122.1 L508.9,131.1 L501.9,140.0 L494.9,149.0 L488.0,157.9 L481.2,166.8 L480.6,167.5" stroke="#ff0000"/>
<path d="M485.8,30.2 L483.0,41.7 L480.2,53.2 L477.5,64.6 L474.8,75.8 L472.1,87.0 L469.5,98.2 L466.9,109.3 L464.3,120.3 L461.7,131.3 L460.2,137.3" stroke="#ff0000"/>
<path d="M403.5,30.2 L407.1,41.6 L410.5,52.9 L413.8,64.2 L416.8,75.5 L419.8,86.6 L422.6,97.8 L425.2,108.9 L427.2,117.4" stroke="#ff0000"/>
<path d="M353.6,30.1 L360.8,40.0 L367.7,49.9 L374.3,59.9 L380.7,69.8 L386.8,79.8 L392.7,89.9 L398.4,99.9 L403.9,110.0 L405.6,113.2" stroke="#ff0000"/>
</g>
</g>
</svg>
</body></html>
